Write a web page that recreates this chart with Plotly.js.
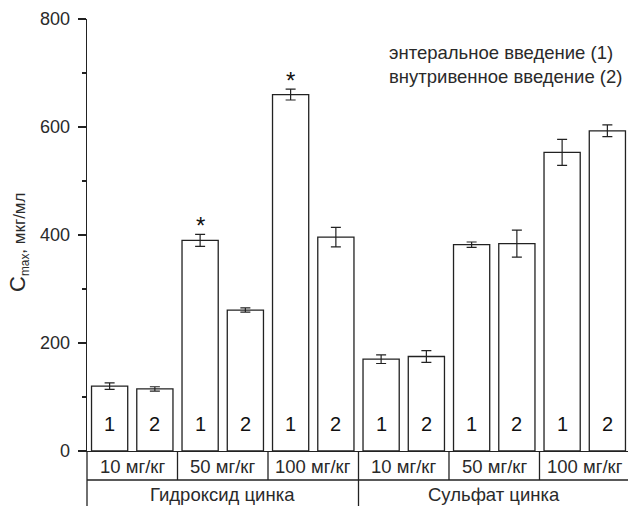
<!DOCTYPE html>
<html>
<head>
<meta charset="utf-8">
<script src="https://cdn.plot.ly/plotly-3.0.1.min.js"></script>
<style>
html,body{margin:0;padding:0;background:#fff;overflow:hidden;}
#chart{width:628px;height:506px;}
</style>
</head>
<body>
<div id="chart"></div>
<script>
// ---- data ----
var compounds = ["Гидроксид цинка", "Гидроксид цинка", "Гидроксид цинка", "Сульфат цинка", "Сульфат цинка", "Сульфат цинка"];
var doses = ["10 мг/кг", "50 мг/кг", "100 мг/кг", "10 мг/кг", "50 мг/кг", "100 мг/кг"];
var enteral = [120, 390, 660, 170, 382, 553];
var enteralErr = [6, 11, 10, 8, 5, 24];
var intravenous = [115, 261, 396, 175, 384, 593];
var intravenousErr = [4, 4, 18, 11, 25, 11];
var enteralSig = [false, true, true, false, false, false];
var seriesLabels = ["1", "2"];
var legendLines = ["энтеральное введение (1)", "внутривенное введение (2)"];
var groupNames = ["Гидроксид цинка", "Сульфат цинка"];
var yTitle = "<span style='font-size:22px'>C</span><sub>max</sub>, мкг/мл";

// ---- build ----
var FONT = "Liberation Sans, Arial, sans-serif";
var INK = "#222";
var TXT = "#2a2a2a";
var cats = compounds.map(function(c, i){ return c + " " + doses[i]; });

function barTrace(vals, errs){
  return {
    type: "bar", x: cats, y: vals,
    marker: {color: "#fff", line: {color: INK, width: 1.3}},
    error_y: {type: "data", array: errs, visible: true, color: INK, thickness: 1.2, width: 5},
    hoverinfo: "skip", showlegend: false
  };
}
var data = [barTrace(enteral, enteralErr), barTrace(intravenous, intravenousErr)];

var plotH = 506 - 19 - 55;
function py(px){ return -px / plotH; } // paper y below the axis

var ann = [];
var shapes = [];
cats.forEach(function(c, i){
  // series numbers inside the bars
  ann.push({x: i - 0.25, y: 0, xref: "x", yref: "y", text: seriesLabels[0], showarrow: false,
            yanchor: "bottom", yshift: 14, font: {family: FONT, size: 20, color: "#111"}});
  ann.push({x: i + 0.25, y: 0, xref: "x", yref: "y", text: seriesLabels[1], showarrow: false,
            yanchor: "bottom", yshift: 14, font: {family: FONT, size: 20, color: "#111"}});
  // dose labels
  ann.push({x: i, y: py(15.5), xref: "x", yref: "paper", text: doses[i], showarrow: false,
            yanchor: "middle", font: {family: FONT, size: 18.5, color: TXT}});
  // significance
  if (enteralSig[i]) {
    ann.push({x: i - 0.25, y: enteral[i] + enteralErr[i], xref: "x", yref: "y", text: "*", showarrow: false,
              yanchor: "bottom", yshift: -7, font: {family: FONT, size: 24, color: "#111"}});
  }
  // separators between doses
  if (i < cats.length - 1) {
    var outer = compounds[i] !== compounds[i + 1];
    shapes.push({type: "line", xref: "x", yref: "paper", x0: i + 0.5, x1: i + 0.5,
                 y0: 0, y1: outer ? py(60) : py(29), line: {color: INK, width: 1.3}});
  }
});
// compound labels centred on their groups
groupNames.forEach(function(g){
  var idx = [];
  compounds.forEach(function(c, i){ if (c === g) idx.push(i); });
  var mid = (idx[0] + idx[idx.length - 1]) / 2;
  ann.push({x: mid, y: py(43), xref: "x", yref: "paper", text: g, showarrow: false,
            yanchor: "middle", font: {family: FONT, size: 18.5, color: TXT}});
});
// table lines
shapes.push({type: "line", xref: "paper", yref: "paper", x0: 0, x1: 1.01, y0: py(29), y1: py(29),
             line: {color: INK, width: 1.3}});
shapes.push({type: "line", xref: "paper", yref: "paper", x0: 0, x1: 0, y0: 0, y1: py(60),
             line: {color: INK, width: 1.3}});
// legend text
ann.push({xref: "paper", yref: "paper", x: (387 - 87) / 541, y: (451 - 40) / plotH, xanchor: "left", yanchor: "top",
          align: "left", text: legendLines.join("<br>"), showarrow: false,
          font: {family: FONT, size: 18.5, color: TXT}});
// y title
ann.push({xref: "paper", yref: "paper", x: 0, y: 0.5, xshift: -69, yshift: -8, xanchor: "center", yanchor: "middle",
          textangle: -90, text: yTitle, showarrow: false, font: {family: FONT, size: 17, color: TXT}});

var layout = {
  width: 628, height: 506,
  margin: {l: 87, r: 0, t: 19, b: 55, pad: 0},
  paper_bgcolor: "#fff", plot_bgcolor: "#fff",
  barmode: "group", bargap: 0, bargroupgap: 0.2,
  font: {family: FONT, size: 18, color: TXT},
  showlegend: false,
  xaxis: {type: "category", range: [-0.5, 5.478], showticklabels: false, ticks: "",
          showgrid: false, zeroline: false, showline: true, linecolor: INK, linewidth: 1.3, fixedrange: true},
  yaxis: {range: [0, 800], tickvals: [0, 200, 400, 600, 800], ticks: "outside", ticklen: 8, tickwidth: 1.3,
          tickcolor: INK, showline: true, linecolor: INK, linewidth: 1.3, showgrid: false, zeroline: false,
          tickfont: {family: FONT, size: 18, color: TXT}, ticklabelstandoff: 4,
          minor: {tickvals: [100, 300, 500, 700], ticks: "outside", ticklen: 4, tickwidth: 1.3, tickcolor: INK, showgrid: false},
          fixedrange: true},
  annotations: ann,
  shapes: shapes
};
Plotly.newPlot("chart", data, layout, {displayModeBar: false, staticPlot: true});
</script>
</body>
</html>
